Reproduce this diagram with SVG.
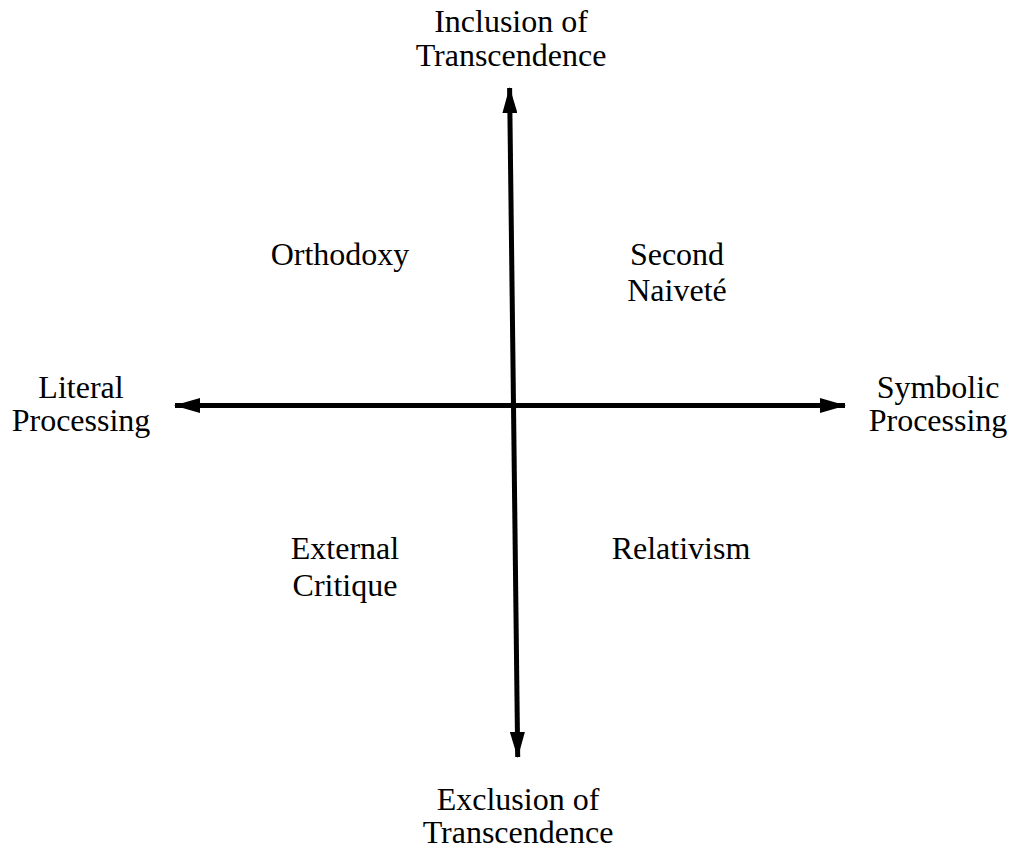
<svg xmlns="http://www.w3.org/2000/svg" width="1014" height="849" viewBox="0 0 1014 849">
<style>
text{font-family:"Liberation Serif","Times New Roman",serif;font-size:32px;fill:#000;text-anchor:middle}
.ax{stroke:#000;stroke-width:5;fill:none}
</style>
<defs>
<marker id="ah" viewBox="0 0 26 15" refX="25" refY="7.5" markerWidth="26" markerHeight="15" markerUnits="userSpaceOnUse" orient="auto">
<path d="M0,0 L26,7.5 L0,15 Z" fill="#000"/>
</marker>
</defs>
<rect width="1014" height="849" fill="#fff"/>
<g id="connectors">
<line class="ax" x1="513.5" y1="405.5" x2="509.6" y2="88" marker-end="url(#ah)"/>
<line class="ax" x1="513.5" y1="405.5" x2="517.7" y2="757" marker-end="url(#ah)"/>
<line class="ax" x1="513.5" y1="405.5" x2="175" y2="405.5" marker-end="url(#ah)"/>
<line class="ax" x1="513.5" y1="405.5" x2="845" y2="405.5" marker-end="url(#ah)"/>
</g>
<g id="top-label"><text x="511" y="32">Inclusion of</text><text x="511" y="66">Transcendence</text></g>
<g id="bottom-label"><text x="518" y="810">Exclusion of</text><text x="518" y="843">Transcendence</text></g>
<g id="left-label"><text x="81" y="398">Literal</text><text x="81" y="431">Processing</text></g>
<g id="right-label"><text x="938" y="398">Symbolic</text><text x="938" y="431">Processing</text></g>
<g id="orthodoxy"><text x="340" y="265">Orthodoxy</text></g>
<g id="second-naivete"><text x="677" y="265">Second</text><text x="677" y="301">Naiveté</text></g>
<g id="external-critique"><text x="345" y="559">External</text><text x="345" y="596">Critique</text></g>
<g id="relativism"><text x="681" y="559">Relativism</text></g>
</svg>
